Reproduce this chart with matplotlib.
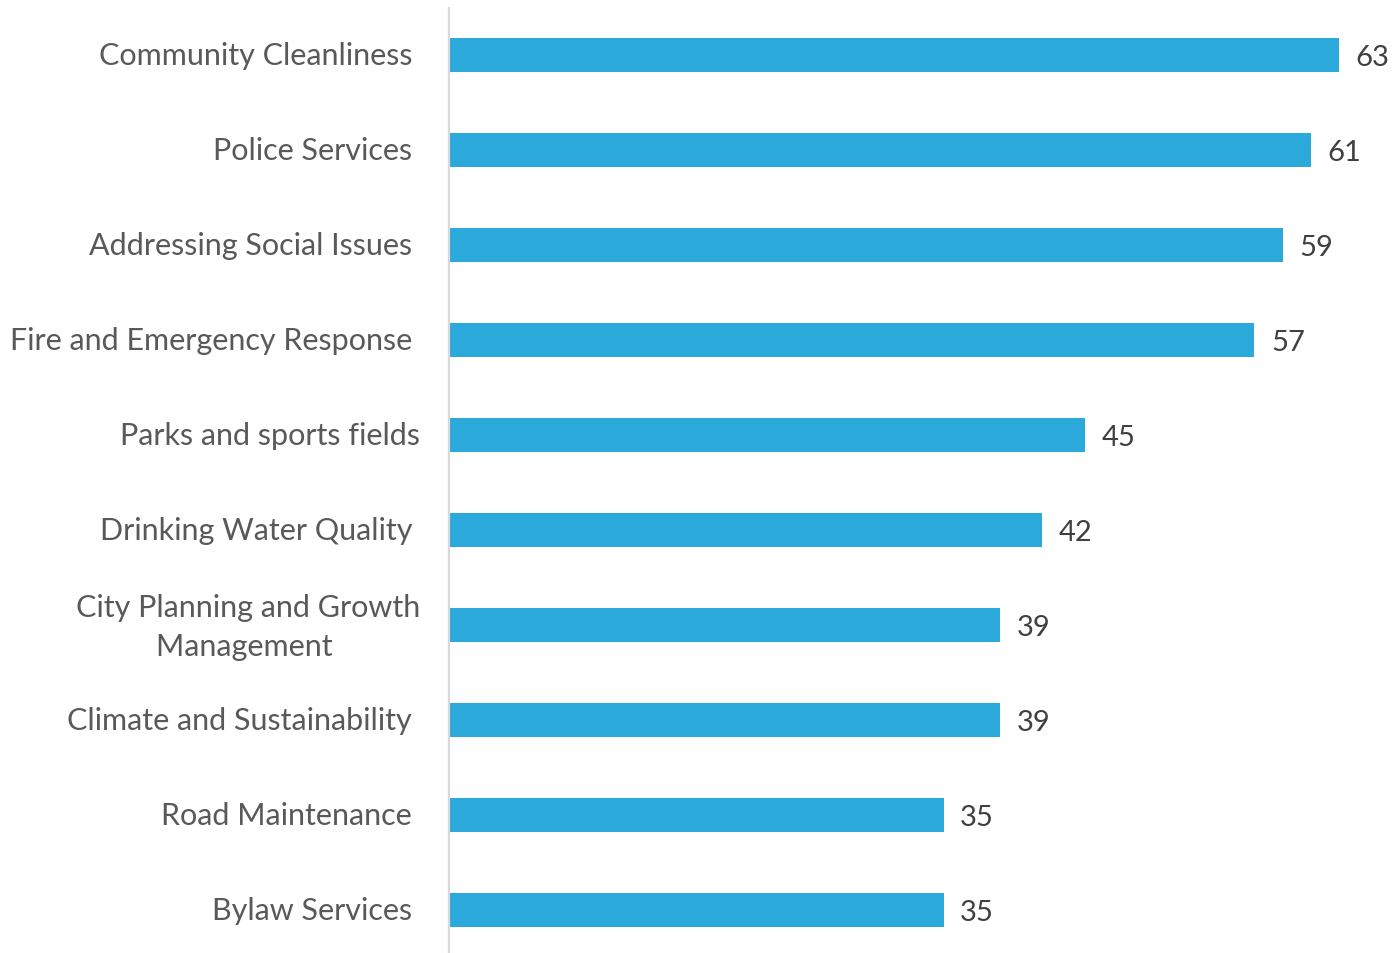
import matplotlib
matplotlib.use("Agg")
import matplotlib.pyplot as plt

categories = [
    "Community Cleanliness ",
    "Police Services ",
    "Addressing Social Issues ",
    "Fire and Emergency Response ",
    "Parks and sports fields",
    "Drinking Water Quality ",
    "City Planning and Growth\nManagement ",
    "Climate and Sustainability ",
    "Road Maintenance ",
    "Bylaw Services ",
]
values = [63, 61, 59, 57, 45, 42, 39, 39, 35, 35]

bar_color = "#2BA9DB"
label_color = "#595959"
value_color = "#404040"

plt.rcParams["font.family"] = ["Lato", "DejaVu Sans"]

fig = plt.figure(figsize=(13.95, 9.54), dpi=100)
W, H = 1395, 954
left_px, right_px, top_px, bottom_px = 449, 1382, 8.5, 954
ax = fig.add_axes([left_px / W, 1 - bottom_px / H,
                   (right_px - left_px) / W, (bottom_px - top_px) / H])

pos = list(range(len(categories)))
ax.barh(pos, values, height=0.36, color=bar_color, zorder=2)

# value labels to the right of each bar
for y, v in zip(pos, values):
    ax.annotate(f"{v}", xy=(v, y), xytext=(12, -7.5), textcoords="offset points",
                ha="left", va="baseline", fontsize=21, color=value_color,
                annotation_clip=False)

# category labels to the left of the axis line
for y, name in zip(pos, categories):
    dy = 1.5 if "\n" not in name else 4.5
    ax.annotate(name, xy=(0, y), xycoords=("axes fraction", "data"),
                xytext=(-21, dy), textcoords="offset points",
                ha="right", va="center_baseline", multialignment="center",
                linespacing=1.45, fontsize=22, color=label_color,
                annotation_clip=False)

ax.set_xlim(0, (right_px - left_px) / 14.13)
ax.set_ylim((bottom_px - 56) / 95, -0.5)
ax.set_yticks([])
ax.set_xticks([])

for side in ["top", "right", "bottom"]:
    ax.spines[side].set_visible(False)
ax.spines["left"].set_color("#D9D9D9")
ax.spines["left"].set_linewidth(1.6)

fig.savefig("out.png", dpi=100)
